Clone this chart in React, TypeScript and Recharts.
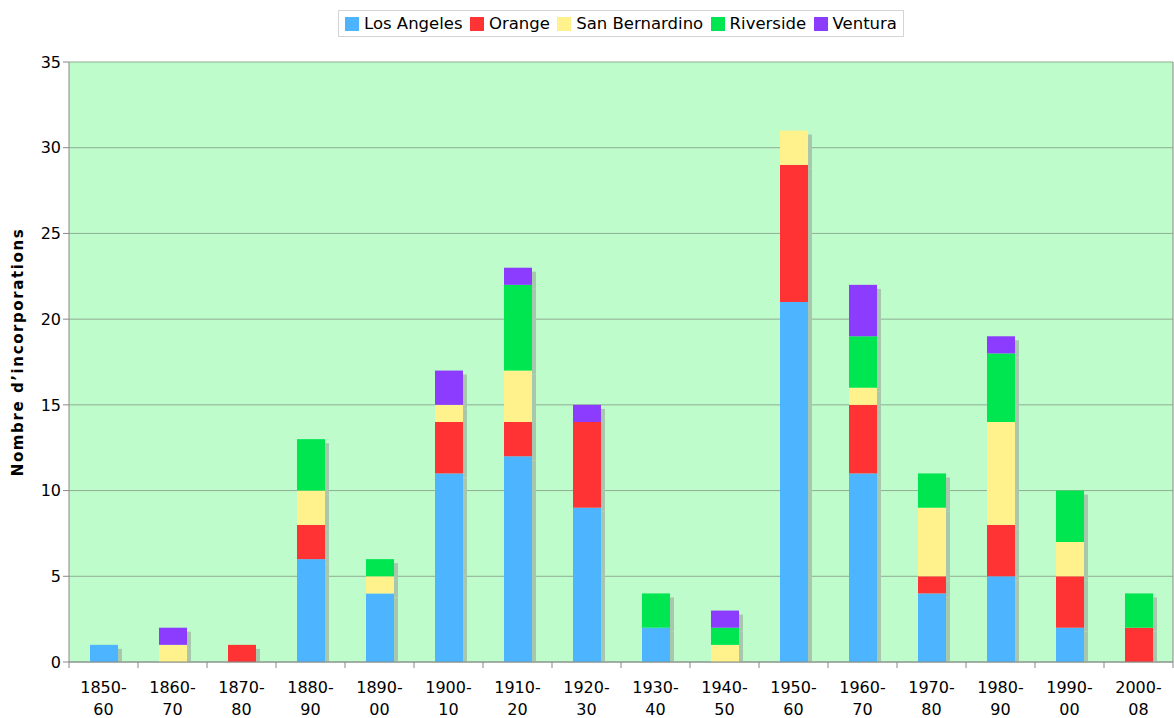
import React from "react";
import { BarChart, Bar, XAxis, YAxis, CartesianGrid } from "recharts";

const categories = ["1850-60","1860-70","1870-80","1880-90","1890-00","1900-10","1910-20","1920-30","1930-40","1940-50","1950-60","1960-70","1970-80","1980-90","1990-00","2000-08"];
const losAngeles =    [1,0,0,6,4,11,12,9,2,0,21,11,4,5,2,0];
const orange =        [0,0,1,2,0,3,2,5,0,0,8,4,1,3,3,2];
const sanBernardino = [0,1,0,2,1,1,3,0,0,1,2,1,4,6,2,0];
const riverside =     [0,0,0,3,1,0,5,0,2,1,0,3,2,4,3,2];
const ventura =       [0,1,0,0,0,2,1,1,0,1,0,3,0,1,0,0];
const yTicks = [0,5,10,15,20,25,30,35];

const series = [
  { key: "la", name: "Los Angeles", color: "#4db5ff", values: losAngeles },
  { key: "or", name: "Orange", color: "#ff3333", values: orange },
  { key: "sb", name: "San Bernardino", color: "#fff28c", values: sanBernardino },
  { key: "rv", name: "Riverside", color: "#00e650", values: riverside },
  { key: "vt", name: "Ventura", color: "#8c3cff", values: ventura },
];

const data = categories.map((c, i) => {
  const row: any = { cat: c };
  series.forEach((s) => { row[s.key] = s.values[i]; });
  return row;
});

const FONT = "'DejaVu Sans', Verdana, sans-serif";
const W = 1174, H = 718;

const ShadowBar = (props: any) => {
  const { x, y, width, height, fill, background } = props;
  if (!height || height <= 0) return null;
  const base = background ? background.y + background.height : y + height + 4;
  const sy = y + 4;
  const sh = Math.max(0, Math.min(y + height + 4, base) - sy);
  return (
    <g>
      <rect x={x + width} y={sy} width={4} height={sh} fill="#a8c8ad" />
      <rect x={x} y={y} width={width} height={height} fill={fill} />
    </g>
  );
};

const XTick = (props: any) => {
  const { x, y, payload, index } = props;
  const half = payload && payload.offset ? payload.offset : (W - 70) / categories.length / 2;
  const [a, b] = String(payload.value).split("-");
  const ty = y - 8;
  return (
    <g>
      <line x1={x - half} x2={x - half} y1={ty} y2={ty + 6} stroke="#888" />
      {index === categories.length - 1 && (
        <line x1={x + half} x2={x + half} y1={ty} y2={ty + 6} stroke="#888" />
      )}
      <text x={x} y={ty + 31} textAnchor="middle" fontFamily={FONT} fontSize={16} fill="#000">{a + "-"}</text>
      <text x={x} y={ty + 53} textAnchor="middle" fontFamily={FONT} fontSize={16} fill="#000">{b}</text>
    </g>
  );
};

const YLabel = (props: any) => {
  const vb = props.viewBox || {};
  const cy = (vb.y || 62) + (vb.height || 600) / 2 - 10;
  return (
    <text x={23} y={cy} transform={`rotate(-90, 23, ${cy})`} textAnchor="middle" fontFamily={FONT} fontWeight="bold" fontSize={15} letterSpacing={1.6} fill="#000">
      Nombre d’incorporations
    </text>
  );
};

export default function App() {
  return (
    <div style={{ position: "absolute", left: 0, top: 0, width: W, height: H, background: "#fff" }}>
      <div style={{ position: "absolute", left: 338, top: 10, width: 566, height: 27, border: "1px solid #d4d4d4", boxSizing: "border-box", display: "flex", alignItems: "center", justifyContent: "space-between", padding: "0 6px 0 6px", fontFamily: FONT, fontSize: 16.5, color: "#000", whiteSpace: "nowrap" }}>
        {series.map((s) => (
          <span key={s.key} style={{ display: "inline-flex", alignItems: "center" }}>
            <span style={{ display: "inline-block", width: 14, height: 14, background: s.color, marginRight: 5 }} />
            {s.name}
          </span>
        ))}
      </div>
      <BarChart width={W} height={H} data={data} margin={{ top: 62, right: 0, bottom: 0, left: 0 }} barSize={28}>
        <CartesianGrid vertical={false} stroke="#8fae94" fill="#bffccb" fillOpacity={1} horizontalValues={yTicks} />
        <XAxis dataKey="cat" height={56} tickLine={false} axisLine={{ stroke: "#888" }} tick={<XTick />} interval={0} />
        <YAxis domain={[0, 35]} ticks={yTicks} width={69} tickSize={6} tickLine={{ stroke: "#888" }} axisLine={{ stroke: "#888" }} tick={{ fontFamily: FONT, fontSize: 16, fill: "#000" }} label={<YLabel />} />
        <YAxis yAxisId="r" orientation="right" width={1} domain={[0, 35]} tick={false} tickLine={false} axisLine={{ stroke: "#888" }} />
        {series.map((s) => (
          <Bar key={s.key} dataKey={s.key} name={s.name} stackId="a" fill={s.color} isAnimationActive={false} shape={<ShadowBar />} />
        ))}
      </BarChart>
    </div>
  );
}
